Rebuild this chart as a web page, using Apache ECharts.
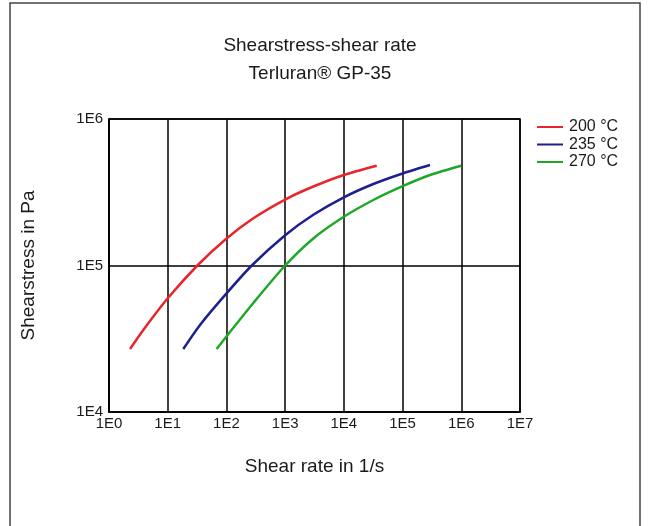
<!DOCTYPE html>
<html><head><meta charset="utf-8">
<script src="https://cdn.jsdelivr.net/npm/echarts@6/dist/echarts.min.js"></script>
<style>html,body{margin:0;padding:0;background:#fff}#c{width:648px;height:526px}</style>
</head><body><div id="c"></div>
<script>
const seriesNames = ['200 °C', '235 °C', '270 °C'];
const seriesColors = ['#e8262a', '#1f1f8f', '#1fa828'];
const rate200 = [2.28, 3.84, 10, 32, 97, 287, 1000, 3020, 10000, 36300];
const stress200 = [26900, 36300, 59700, 100000, 151000, 210000, 282000, 346000, 415000, 480000];
const rate235 = [18.4, 35.5, 97, 270, 1000, 3020, 10000, 31800, 100000, 294000];
const stress235 = [26900, 39300, 63500, 100000, 161000, 222000, 292000, 360000, 425000, 485000];
const rate270 = [68, 100, 287, 1000, 3020, 10000, 31800, 100000, 294000, 1000000];
const stress270 = [26900, 32800, 55500, 100000, 153000, 215000, 280000, 348000, 415000, 480000];
const xTicks = ['1E0','1E1','1E2','1E3','1E4','1E5','1E6','1E7'];
const yTicks = ['1E4','1E5','1E6'];

const pairs = (xs, ys) => xs.map((x, i) => [x, ys[i]]);
const dataSets = [pairs(rate200, stress200), pairs(rate235, stress235), pairs(rate270, stress270)];
const font = 'Liberation Sans, Arial, sans-serif';
const txt = '#1a1a1a';
const chart = echarts.init(document.getElementById('c'));
chart.setOption({
  animation: false,
  backgroundColor: '#fff',
  title: [
    {text: 'Shearstress-shear rate', left: 315, textAlign: 'center', top: 31, textStyle: {fontFamily: font, fontSize: 19, fontWeight: 'normal', color: txt}},
    {text: 'Terluran® GP-35', left: 315, textAlign: 'center', top: 59, textStyle: {fontFamily: font, fontSize: 19, fontWeight: 'normal', color: txt}}
  ],
  graphic: [
    {type: 'rect', shape: {x: 10, y: 3, width: 630, height: 540}, style: {fill: 'none', stroke: '#444', lineWidth: 1.5}, silent: true},
    {type: 'rect', shape: {x: 109, y: 119, width: 411, height: 293}, style: {fill: 'none', stroke: '#000', lineWidth: 1.5}, silent: true}
  ],
  legend: {
    orient: 'vertical', left: 532, top: 114, itemGap: 1.5, itemWidth: 26, itemHeight: 2, icon: 'rect',
    textStyle: {fontFamily: font, fontSize: 16, lineHeight: 16, color: txt, padding: [0,0,0,1]},
    data: seriesNames
  },
  grid: {left: 109, right: 128, top: 119, bottom: 114},
  xAxis: {
    type: 'log', logBase: 10, min: 1, max: 1e7,
    name: 'Shear rate in 1/s', nameLocation: 'middle', nameGap: 45,
    nameTextStyle: {fontFamily: font, fontSize: 19, color: txt},
    axisLine: {show: true, lineStyle: {color: '#000', width: 1.5}},
    axisTick: {show: false},
    axisLabel: {fontFamily: font, fontSize: 15, color: txt, margin: 4, formatter: v => xTicks[Math.round(Math.log10(v))]},
    splitLine: {show: true, lineStyle: {color: '#000', width: 1.5}},
    minorSplitLine: {show: false}
  },
  yAxis: {
    type: 'log', logBase: 10, min: 1e4, max: 1e6,
    name: 'Shearstress in Pa', nameLocation: 'middle', nameGap: 71, nameRotate: 90,
    nameTextStyle: {fontFamily: font, fontSize: 19, color: txt},
    axisLine: {show: true, lineStyle: {color: '#000', width: 1.5}},
    axisTick: {show: false},
    axisLabel: {fontFamily: font, fontSize: 15, color: txt, margin: 6, formatter: v => yTicks[Math.round(Math.log10(v)) - 4]},
    splitLine: {show: true, lineStyle: {color: '#000', width: 1.5}}
  },
  series: dataSets.map((d, i) => ({
    name: seriesNames[i], type: 'line', data: d, smooth: 0.25, showSymbol: false,
    lineStyle: {color: seriesColors[i], width: 2.5}, itemStyle: {color: seriesColors[i]}
  }))
});
</script></body></html>
